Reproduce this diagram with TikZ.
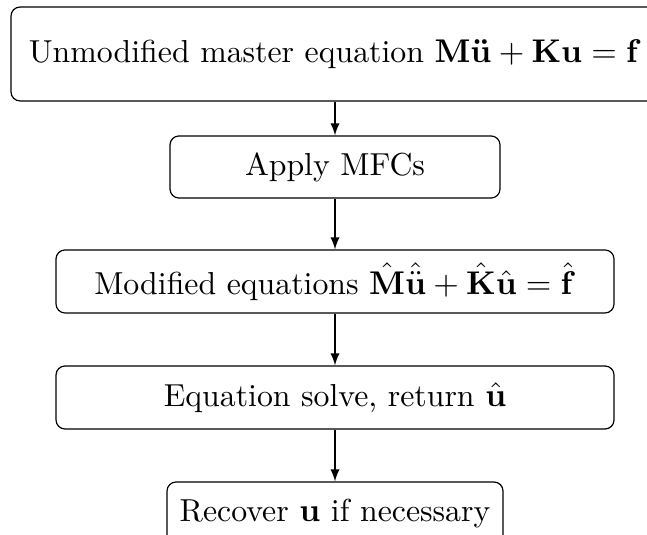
\documentclass[tikz,border=0pt]{standalone}
\usepackage{amsmath}
\usetikzlibrary{arrows}
\begin{document}
\begin{tikzpicture}[x=1pt,y=-1pt,
  stepbox/.style={draw, rounded corners=3pt, align=center, inner sep=0pt,
    minimum height=21pt, font=\fontsize{10.6}{12.7}\selectfont},
  flow/.style={-latex}]
  \useasboundingbox (0,0) rectangle (215.67,178.33);
  % process steps, top to bottom
  \node[stepbox, minimum width=216pt, minimum height=31.3pt] (master) at (111.67,18)
    {Unmodified master equation $\mathbf{M\ddot{u}}+\mathbf{Ku}=\mathbf{f}$};
  \node[stepbox, minimum width=110pt, minimum height=20.7pt] (mfc) at (111.67,55.67)
    {Apply MFCs};
  \node[stepbox, minimum width=186pt] (modified) at (111.67,93.83)
    {Modified equations $\hat{\mathbf{M}}\hat{\ddot{\mathbf{u}}}+\hat{\mathbf{K}}\hat{\mathbf{u}}=\hat{\mathbf{f}}$};
  \node[stepbox, minimum width=186pt] (solve) at (111.67,132.5)
    {Equation solve, return $\hat{\mathbf{u}}$};
  \node[stepbox, minimum width=112pt] (recover) at (111.67,171.17)
    {Recover $\mathbf{u}$ if necessary};
  % connectors
  \draw[flow] (master.south) -- (mfc.north);
  \draw[flow] (mfc.south) -- (modified.north);
  \draw[flow] (modified.south) -- (solve.north);
  \draw[flow] (solve.south) -- (recover.north);
\end{tikzpicture}
\end{document}
